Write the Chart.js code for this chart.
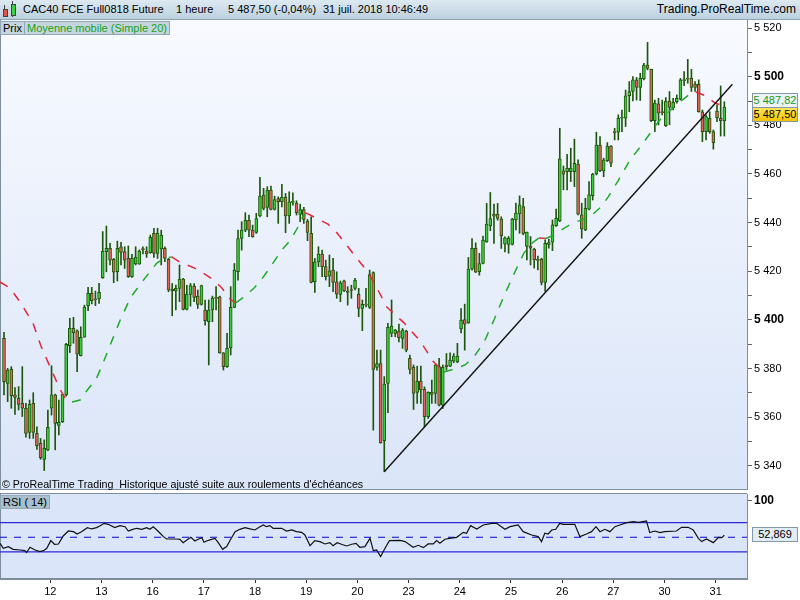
<!DOCTYPE html>
<html>
<head>
<meta charset="utf-8">
<script src="https://cdn.jsdelivr.net/npm/chart.js@4.4.1/dist/chart.umd.min.js"></script>
<style>
  body { margin:0; width:800px; height:600px; overflow:hidden; background:#fff; position:relative;
         font-family: Arial, "Liberation Sans", sans-serif; font-size:11px; color:#000; }
  .abs { position:absolute; white-space:nowrap; }
  #header { left:0; top:0; width:800px; height:20px; background:linear-gradient(#dce9f1,#bcd1de);
            border-bottom:1px solid #8fa3b3; box-sizing:border-box; line-height:19px; }
  #header span { position:absolute; top:0; }
  #mainBg { left:0; top:20px; width:747px; height:470px; background:linear-gradient(#f8faff,#dae5f8);
            border-left:1px solid #7d8e9c; border-bottom:1px solid #7d8e9c; box-sizing:border-box; }
  #rsiBg { left:0; top:493px; width:747px; height:86px; background:#dbe5fa;
           border:1px solid #7d8e9c; border-right:none; box-sizing:border-box; }
  .box { background:#c5d5e0; border:1px solid #93a8b7; height:12px; line-height:12px; padding:0 2px; box-sizing:content-box; }
  .tag { left:752px; width:44px; height:13px; line-height:13px; text-align:center; border:1px solid #8497a6; font-size:11px; }
  canvas { position:absolute; left:0; }
</style>
</head>
<body>
<div id="header" class="abs">
  <div class="abs" style="left:4px;top:5px;width:1px;height:12px;background:#444"></div>
  <div class="abs" style="left:3px;top:9px;width:3px;height:6px;background:#e4544c;border:1px solid #444"></div>
  <div class="abs" style="left:12px;top:1px;width:1px;height:16px;background:#444"></div>
  <div class="abs" style="left:11px;top:4px;width:3px;height:10px;background:#3fcf3f;border:1px solid #444"></div>
  <span style="left:23px">CAC40 FCE Full0818 Future</span>
  <span style="left:176px">1 heure</span>
  <span style="left:228px">5 487,50 (-0,04%)</span>
  <span style="left:323px">31 juil. 2018 10:46:49</span>
  <span style="right:4px;font-size:12px">Trading.ProRealTime.com</span>
</div>
<div id="mainBg" class="abs"></div>
<div id="rsiBg" class="abs"></div>
<canvas id="main" width="800" height="470" style="top:20px"></canvas>
<canvas id="rsi" width="800" height="106" style="top:494px"></canvas>
<div class="abs box" style="left:0;top:21px">Prix</div>
<div class="abs box" style="left:24px;top:21px;color:#17a317">Moyenne mobile (Simple 20)</div>
<div class="abs" style="left:2px;top:478px;font-size:10.7px">© ProRealTime Trading&nbsp; Historique ajusté suite aux roulements d'échéances</div>
<div class="abs box" style="left:0;top:495px;background:#a9bfcb">RSI ( 14)</div>
<div id="maTag" class="abs tag" style="background:#eef3f8;color:#169a16"></div>
<div id="lastTag" class="abs tag" style="background:linear-gradient(#ffe55a,#f5c400)"></div>
<div id="rsiTag" class="abs tag" style="background:#e2ecf4"></div>
<script>
// hourly candles, index 0 = first bar (11 July, 10h)
var open = [5392.4,5373.9,5379.7,5369.2,5367.8,5365.7,5363.7,5353.8,5365.7,5353.4,5349.3,5342.7,5346.6,5363.7,5369.2,5356.6,5358.2,5369.2,5389.4,5396.6,
  5395.5,5385.3,5392.9,5405.9,5410.9,5408.6,5408.6,5417.4,5428.1,5429.4,5424.9,5419.8,5430.1,5428.1,5425.3,5417.8,5423.0,5422.9,5429.2,5428.3,
  5427.7,5435.6,5427.4,5429.2,5429.4,5424.9,5412.7,5411.9,5413.0,5416.8,5404.3,5410.5,5413.9,5409.8,5406.4,5404.1,5399.3,5404.1,5409.1,5409.5,
  5386.5,5380.8,5388.6,5405.2,5419.8,5433.5,5436.9,5441.0,5436.9,5436.0,5442.8,5451.3,5446.3,5453.4,5445.4,5449.9,5448.6,5450.4,5442.8,5448.3,
  5447.9,5443.4,5445.4,5440.6,5435.6,5415.7,5423.9,5427.1,5421.9,5418.0,5420.5,5415.7,5410.5,5416.1,5411.9,5412.3,5413.0,5410.5,5404.7,5406.4,
  5405.2,5419.5,5380.5,5382.1,5350.4,5373.9,5394.5,5394.5,5395.4,5392.4,5395.4,5384.2,5380.5,5370.2,5374.9,5371.5,5360.2,5370.2,5369.8,5380.8,
  5365.0,5381.5,5381.0,5383.1,5382.8,5396.3,5400.2,5398.9,5420.9,5429.4,5419.8,5423.2,5432.1,5438.7,5443.5,5443.5,5441.5,5431.2,5431.1,5431.1,
  5441.1,5443.6,5446.6,5430.2,5430.4,5429.1,5424.7,5424.9,5415.4,5431.1,5432.0,5438.8,5440.7,5461.3,5461.0,5461.0,5461.0,5464.1,5443.2,5437.0,
  5445.5,5451.1,5460.0,5471.9,5461.3,5465.5,5471.5,5477.2,5477.2,5482.9,5482.9,5492.2,5493.9,5498.7,5495.6,5499.1,5504.8,5503.0,5481.9,5488.8,
  5485.6,5479.9,5490.0,5487.3,5489.7,5490.8,5498.4,5499.1,5499.3,5497.0,5496.9,5485.6,5477.4,5482.9,5477.4,5485.9,5482.9,5481.9];
var high = [5394.9,5380.1,5380.8,5372.2,5372.6,5380.8,5365.7,5367.1,5370.1,5356.1,5351.3,5350.7,5363.0,5381.2,5369.5,5367.1,5369.4,5390.4,5400.7,5401.1,
  5395.9,5397.2,5406.1,5413.4,5413.4,5411.9,5415.1,5436.3,5438.6,5431.5,5425.3,5432.4,5431.9,5430.1,5430.4,5427.0,5430.1,5428.8,5430.1,5430.1,
  5434.9,5437.7,5437.7,5436.9,5430.1,5425.3,5415.0,5414.3,5422.6,5417.1,5414.3,5415.0,5415.0,5412.3,5414.3,5408.2,5408.2,5409.8,5413.7,5409.8,
  5386.6,5394.5,5413.7,5423.2,5436.9,5440.4,5444.1,5443.1,5439.0,5443.8,5458.6,5454.1,5454.8,5455.0,5450.9,5450.6,5455.8,5452.0,5452.7,5452.3,
  5449.0,5447.6,5446.3,5441.3,5442.4,5425.3,5430.1,5428.7,5424.6,5426.7,5425.3,5419.8,5416.0,5416.4,5413.7,5414.3,5417.1,5413.0,5408.2,5413.0,
  5420.5,5419.8,5387.6,5387.6,5376.7,5398.6,5408.2,5396.1,5398.3,5396.5,5395.8,5385.6,5381.5,5381.0,5381.0,5372.5,5370.5,5375.3,5381.7,5384.2,
  5381.5,5386.2,5386.5,5386.2,5390.4,5404.7,5406.5,5425.7,5433.5,5431.7,5427.4,5434.5,5447.9,5452.4,5447.6,5447.9,5442.4,5434.2,5434.3,5441.8,
  5448.0,5451.0,5450.0,5436.1,5434.3,5429.5,5426.3,5425.4,5432.9,5433.2,5441.1,5445.6,5478.8,5463.3,5468.1,5470.6,5474.3,5465.8,5448.0,5450.0,
  5456.9,5460.3,5477.2,5475.4,5466.5,5472.9,5471.7,5478.8,5484.3,5486.3,5494.5,5498.0,5500.0,5499.7,5501.4,5505.5,5514.1,5503.1,5490.4,5491.1,
  5490.4,5491.4,5493.9,5491.1,5492.5,5499.3,5502.1,5507.1,5503.0,5498.0,5498.7,5486.3,5484.3,5485.6,5478.1,5488.4,5496.2,5489.7];
var low = [5369.2,5366.4,5363.7,5361.2,5363.0,5360.3,5351.8,5351.3,5351.3,5346.8,5342.7,5338.1,5346.3,5360.9,5346.6,5352.7,5357.8,5368.7,5386.6,5390.4,
  5378.7,5385.2,5392.9,5403.8,5406.6,5405.9,5406.8,5417.1,5419.8,5422.6,5415.3,5416.0,5422.6,5421.2,5417.5,5417.5,5422.6,5422.9,5427.1,5425.7,
  5427.4,5425.7,5425.3,5422.6,5424.0,5411.6,5401.7,5404.1,5407.5,5404.1,5404.1,5405.7,5407.5,5404.7,5406.1,5397.9,5381.5,5399.3,5404.1,5386.3,
  5379.4,5380.5,5385.6,5405.0,5416.4,5428.7,5436.3,5434.2,5434.0,5435.6,5442.4,5445.2,5442.4,5445.2,5445.2,5439.7,5446.5,5435.9,5439.7,5447.2,
  5443.1,5440.4,5439.7,5432.6,5415.2,5411.3,5421.9,5417.8,5416.4,5413.7,5411.6,5408.9,5407.5,5411.6,5406.1,5408.9,5412.3,5401.3,5395.6,5405.4,
  5404.7,5354.7,5379.4,5349.3,5337.6,5361.9,5393.1,5393.1,5391.0,5388.3,5386.9,5377.8,5363.2,5365.7,5365.7,5356.1,5359.5,5365.7,5365.7,5364.7,
  5363.6,5379.4,5380.8,5382.4,5382.4,5394.7,5387.6,5398.6,5420.5,5419.5,5418.4,5423.0,5431.9,5436.7,5431.5,5441.0,5429.4,5428.0,5427.4,5430.8,
  5437.0,5435.6,5435.0,5424.7,5422.6,5421.3,5420.6,5414.4,5411.7,5429.5,5428.5,5438.4,5440.4,5453.5,5453.5,5456.9,5454.8,5443.2,5433.6,5436.7,
  5445.2,5449.3,5459.6,5461.0,5458.9,5465.1,5463.0,5474.0,5474.0,5477.4,5479.5,5485.6,5490.0,5490.4,5490.2,5498.7,5502.8,5481.5,5477.4,5480.2,
  5484.3,5479.5,5480.2,5486.3,5489.1,5490.4,5496.3,5497.3,5493.9,5493.9,5485.4,5473.3,5474.0,5476.7,5470.2,5481.5,5475.6,5475.6];
var close = [5374.6,5379.4,5368.9,5368.2,5365.3,5363.7,5353.4,5365.3,5353.8,5348.3,5343.4,5347.2,5355.9,5369.2,5357.5,5357.9,5369.4,5390.0,5396.6,5394.8,
  5385.9,5392.9,5405.2,5410.9,5407.9,5408.3,5411.4,5428.3,5429.4,5424.6,5419.6,5429.4,5427.8,5424.6,5417.8,5425.3,5425.7,5428.3,5428.9,5427.1,
  5434.0,5427.4,5435.6,5434.9,5425.3,5412.3,5411.9,5413.0,5416.8,5404.3,5410.6,5414.1,5409.3,5406.4,5414.1,5399.7,5404.1,5408.9,5408.9,5386.5,
  5380.8,5388.3,5405.2,5420.5,5433.5,5436.9,5441.0,5436.9,5434.2,5441.7,5450.9,5445.8,5453.4,5445.4,5449.5,5448.6,5450.4,5442.8,5448.6,5448.4,
  5444.1,5445.4,5441.3,5436.0,5415.4,5423.9,5427.1,5421.9,5417.8,5420.2,5415.4,5410.6,5415.3,5411.9,5411.3,5412.1,5416.4,5404.7,5406.4,5406.1,
  5418.7,5379.7,5382.1,5349.5,5373.6,5397.0,5397.5,5395.8,5392.7,5395.8,5387.6,5379.7,5369.8,5374.9,5371.2,5360.2,5370.2,5369.4,5381.5,5365.0,
  5380.5,5380.8,5383.5,5385.2,5385.2,5399.9,5398.3,5420.9,5429.4,5419.6,5423.2,5432.8,5439.4,5441.7,5442.7,5441.7,5434.6,5433.8,5433.6,5441.5,
  5443.9,5447.3,5435.6,5436.1,5429.5,5424.7,5424.5,5415.4,5431.5,5431.8,5439.1,5441.8,5466.2,5459.9,5462.4,5462.4,5464.4,5443.5,5437.4,5445.9,
  5451.4,5460.0,5471.9,5461.4,5465.8,5471.5,5464.4,5477.0,5482.9,5483.2,5492.1,5493.9,5498.7,5495.6,5499.3,5504.8,5503.4,5481.9,5489.1,5485.0,
  5485.2,5490.0,5487.4,5489.5,5491.1,5498.7,5498.7,5499.0,5495.6,5495.6,5485.6,5477.4,5483.6,5477.4,5472.9,5483.2,5481.9,5487.5];

// Moyenne mobile (Simple 20)
var maIdx = [-1.09,1.6,4.4,7.9,10.1,12.6,15.3,17.0,18.6,20.8,23.0,25.2,27.1,29.5,32.0,34.7,38.6,41.8,44.0,45.9,
  48.1,52.0,54.4,57.4,59.6,61.8,63.4,65.6,68.4,70.5,72.7,76.0,78.2,80.4,81.5,82.6,85.9,88.6,91.1,94.1,
  97.1,99.3,101.7,104.7,109.4,113.8,117.3,120.3,123.1,126.1,128.5,131.3,134.0,136.5,139.2,142.2,144.4,146.3,148.2,149.8,
  152.9,155.6,160.2,163.5,165.2,167.9,171.2,175.0,179.1,183.8,187.6,189.2,192.0,194.4,197];
var maVal = [5415.6,5413.1,5407.4,5398.8,5389.3,5380.7,5371.6,5367.1,5366.3,5367.1,5371.6,5375.7,5382.3,5391.4,5400.8,5409.4,5417.3,5423.4,5425.5,5425.9,
  5423.8,5421.4,5419.3,5416.4,5413.1,5408.6,5407.0,5409.4,5413.1,5416.8,5421.4,5428.8,5432.5,5438.2,5441.9,5444.0,5441.5,5439.4,5435.7,5430.0,
  5424.2,5420.1,5414.0,5405.3,5398.8,5391.4,5383.1,5378.6,5379.8,5381.5,5384.8,5390.9,5400.0,5409.0,5418.1,5427.5,5431.6,5433.7,5433.5,5434.5,
  5437.4,5439.9,5442.3,5446.8,5450.5,5457.1,5465.7,5473.1,5481.8,5488.4,5492.9,5493.7,5492.1,5489.2,5487.82];

// RSI (14)
var rsiIdx = [-1.1,-0.2,1.2,2.5,4.4,5.7,6.2,7.1,8.5,9.8,10.8,11.7,12.8,13.8,14.9,16.2,17.6,19.0,20.0,21.2,
  22.8,24.0,25.3,26.3,27.4,28.5,30.3,31.7,33.1,34.0,35.2,36.3,37.7,39.0,39.9,40.8,41.8,42.7,43.6,44.5,
  47.2,48.1,49.0,50.0,51.1,52.2,53.1,54.1,54.7,55.4,56.3,57.7,58.6,59.8,60.9,62.0,63.2,64.5,65.9,67.3,
  68.6,70.0,70.9,71.8,72.7,73.6,75.9,77.3,78.7,80.0,81.4,82.3,83.7,85.0,86.4,87.8,89.1,90.0,91.1,92.3,
  93.7,95.1,96.3,97.3,98.7,100.1,101.0,101.9,103.0,104.2,105.4,108.3,109.7,111.9,113.3,114.7,116.0,117.4,118.3,119.2,
  120.6,121.9,123.8,125.6,126.5,127.6,129.3,131.1,133.4,134.7,137.0,138.4,140.6,142.0,144.3,146.1,147.0,147.9,148.8,149.8,
  150.9,152.0,152.9,154.8,156.1,157.5,159.3,160.7,161.9,163.0,164.3,165.7,167.1,168.4,170.3,172.1,173.5,175.7,176.6,178.0,
  179.4,180.7,183.9,185.3,187.1,188.5,189.9,190.8,192.1,194.0,195.4,196.3,197];
var rsiVal = [41.8,35.0,37.3,33.6,32.7,31.8,29.1,36.4,32.7,30.5,31.8,35.0,45.5,40.5,40.9,51.8,58.6,57.7,54.5,57.7,
  63.2,61.4,63.2,65.9,69.1,67.7,63.2,65.9,64.5,58.6,60.9,62.3,60.9,63.2,60.9,64.5,60.0,55.5,50.9,47.7,
  47.7,47.3,42.7,46.4,50.0,45.0,47.3,49.5,43.2,45.0,46.4,48.6,42.7,33.6,37.3,47.3,57.7,60.9,63.2,61.4,
  60.0,64.5,66.8,64.5,65.9,62.3,62.3,58.6,60.0,57.7,56.8,53.2,38.6,45.5,44.1,40.9,42.7,38.6,42.7,40.5,
  38.2,40.5,41.8,36.4,37.3,48.6,31.8,32.7,23.6,35.0,45.5,45.7,44.1,36.4,39.1,35.9,40.9,40.9,45.5,41.8,
  47.3,48.6,50.0,56.8,55.5,65.9,61.4,66.8,69.1,69.1,60.9,64.5,66.8,57.7,53.2,50.9,44.1,55.5,54.5,60.0,
  60.9,69.1,67.7,67.7,67.7,50.9,54.5,57.7,64.5,57.7,60.9,57.7,64.5,66.8,70.0,71.4,70.5,72.3,56.4,58.6,
  56.4,57.7,58.6,63.6,63.6,60.0,48.6,44.1,47.7,42.7,50.0,49.5,52.869];
var rsiLevels = [70, 50, 30];

// trend line drawn on the chart (bar index, price)
var trendIdx = [104, 199.2];
var trendVal = [5337.6, 5496.9];

// axes
var priceTicks = [5340,5350,5360,5370,5380,5390,5400,5410,5420,5430,5440,5450,5460,5470,5480,5490,5500,5510,5520];
var dayStart = [12,26,40,54,68,82,96,110,124,138,152,166,180,194];
var dayLabels = ['12','13','16','17','18','19','20','23','24','25','26','27','30','31'];

var X_MIN = -1.094, X_MAX = 203.2;
var GREEN = '#3acd3a', RED = '#e4625a', EDGE = '#1f560d';

function spaced(n) { return String(n).replace(/\B(?=(\d{3})+(?!\d))/g, ' '); }
function priceFmt(v) {
  var p = v.toFixed(2).split('.');
  return spaced(p[0]) + ',' + p[1];
}
function pts(xs, ys) { return xs.map(function (x, i) { return { x: x, y: ys[i] }; }); }
// keep the plot area flush with the canvas edges (labels may overhang)
function fitRight(s) { s.width = 53; s.paddingTop = 0; s.paddingBottom = 0; }

var mainChart = new Chart(document.getElementById('main'), {
  type: 'bar',
  data: {
    datasets: [
      { type: 'line', data: pts(trendIdx, trendVal), borderColor: '#111', borderWidth: 1.4,
        pointRadius: 0, order: 0 },
      { type: 'line', data: pts(maIdx, maVal), borderWidth: 1.5, borderDash: [9, 9], pointRadius: 0,
        borderColor: '#1faa28',
        segment: { borderColor: function (c) { return c.p1.parsed.y < c.p0.parsed.y ? '#e3283a' : '#1faa28'; } },
        order: 1 },
      { data: close.map(function (c, i) { return { x: i, y: [open[i], c] }; }),
        backgroundColor: close.map(function (c, i) { return c >= open[i] ? GREEN : RED; }),
        borderColor: EDGE, borderWidth: 1, borderSkipped: false, barThickness: 3, minBarLength: 1,
        grouped: false, order: 2 },
      { data: high.map(function (h, i) { return { x: i, y: [low[i], h] }; }),
        backgroundColor: EDGE, barThickness: 1, grouped: false, order: 3 }
    ]
  },
  options: {
    responsive: false, animation: false, events: [],
    layout: { padding: 0 },
    plugins: { legend: { display: false }, tooltip: { enabled: false } },
    scales: {
      x: { type: 'linear', min: X_MIN, max: X_MAX, offset: false, display: false },
      y: {
        position: 'right', min: 5330.1, max: 5523.3,
        afterFit: fitRight,
        afterBuildTicks: function (s) { s.ticks = priceTicks.map(function (v) { return { value: v }; }); },
        ticks: {
          callback: function (v) { return v % 20 === 0 ? spaced(v) : ''; },
          color: '#000', padding: 2,
          font: function (c) {
            var b = c.tick && c.tick.value % 100 === 0;
            return { family: 'Arial', size: b ? 12 : 11, weight: b ? 'bold' : 'normal' };
          }
        },
        grid: { drawOnChartArea: false, tickLength: 5, color: '#5a6570' },
        border: { color: '#7d8e9c' }
      }
    }
  }
});

var rsiSets = [{ data: pts(rsiIdx, rsiVal), borderColor: '#111', borderWidth: 1.2, pointRadius: 0, order: 0 }];
rsiLevels.forEach(function (lv) {
  rsiSets.push({ data: [{ x: X_MIN, y: lv }, { x: X_MAX, y: lv }], borderColor: '#2a2ad6', borderWidth: 1.2,
    borderDash: lv === 50 ? [7, 7] : [], pointRadius: 0, order: 1 });
});

var rsiChart = new Chart(document.getElementById('rsi'), {
  type: 'line',
  data: { datasets: rsiSets },
  options: {
    responsive: false, animation: false, events: [],
    layout: { padding: 0 },
    plugins: { legend: { display: false }, tooltip: { enabled: false } },
    scales: {
      x: {
        type: 'linear', min: X_MIN, max: X_MAX,
        afterFit: function (s) { s.height = 21; s.paddingLeft = 0; s.paddingRight = 0; },
        afterBuildTicks: function (s) { s.ticks = dayStart.map(function (v) { return { value: v + 0.65 }; }); },
        ticks: { callback: function (v, i) { return dayLabels[i]; }, autoSkip: false, maxRotation: 0,
                 color: '#000', padding: 2, font: { family: 'Arial', size: 11 } },
        grid: { drawOnChartArea: false, tickLength: 4, color: '#333' },
        border: { color: '#7d8e9c' }
      },
      y: {
        position: 'right', min: -6.9, max: 109.1,
        afterFit: fitRight,
        afterBuildTicks: function (s) { s.ticks = [{ value: 100 }]; },
        ticks: { callback: function (v) { return String(v); }, color: '#000', padding: 2,
                 font: { family: 'Arial', size: 12, weight: 'bold' } },
        grid: { drawOnChartArea: false, tickLength: 5, color: '#5a6570' },
        border: { color: '#7d8e9c' }
      }
    }
  }
});

// value tags on the right axis
var lastClose = close[close.length - 1], lastMa = maVal[maVal.length - 1], lastRsi = rsiVal[rsiVal.length - 1];
var yMa = 20 + mainChart.scales.y.getPixelForValue(lastMa);
var yClose = 20 + mainChart.scales.y.getPixelForValue(lastClose);
var mid = Math.round((yMa + yClose) / 2);
var maTag = document.getElementById('maTag');
maTag.textContent = priceFmt(lastMa);
maTag.style.top = (mid - 14) + 'px';
var lastTag = document.getElementById('lastTag');
lastTag.textContent = priceFmt(lastClose);
lastTag.style.top = mid + 'px';
var rsiTag = document.getElementById('rsiTag');
rsiTag.textContent = lastRsi.toFixed(3).replace('.', ',');
rsiTag.style.top = Math.round(494 + rsiChart.scales.y.getPixelForValue(lastRsi) - 8) + 'px';
</script>
</body>
</html>
